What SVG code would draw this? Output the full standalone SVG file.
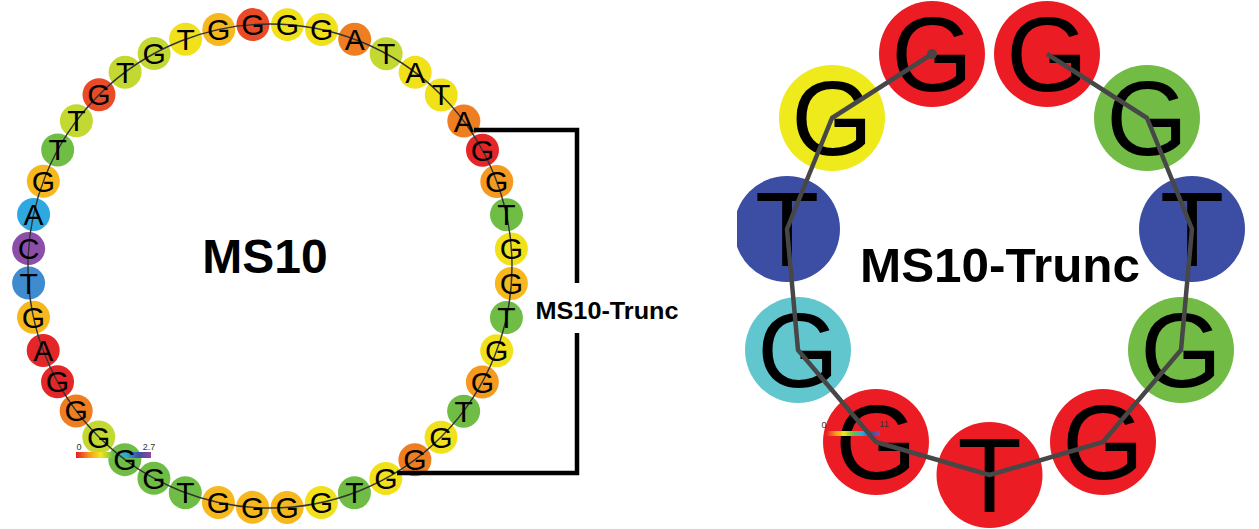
<svg xmlns="http://www.w3.org/2000/svg" width="1259" height="529" viewBox="0 0 1259 529">
<style>
.bg{fill:#fff}
.n{stroke:none}
.nt{font-family:"Liberation Sans",Arial,sans-serif;font-size:30px;fill:#000;text-anchor:middle}
.bt{font-family:"Liberation Sans",Arial,sans-serif;font-size:105px;fill:#000;text-anchor:middle}
.lbl{font-family:"Liberation Sans",Arial,sans-serif;font-weight:bold;fill:#000;text-anchor:middle}
.cb{font-family:"Liberation Sans",Arial,sans-serif;font-size:9px;fill:#333;text-anchor:middle}
.r{fill:#e42628}.ro{fill:#ea4b26}.o{fill:#ef7d22}.oa{fill:#f39a1f}.go{fill:#f6b81d}.y{fill:#f1e11b}.yg{fill:#c3d932}.g{fill:#6fbd45}.cy{fill:#2ea8e0}.bl{fill:#3e8bd0}.pu{fill:#8b4fa9}
.R{fill:#ec1c24}.Y{fill:#eeea1c}.G{fill:#72bb45}.B{fill:#3b4ea4}.C{fill:#62c6cf}
.bb{fill:none;stroke:#333;stroke-width:1.4}
.bb2{fill:none;stroke:#474747;stroke-width:4.5;stroke-linejoin:round}
.br{fill:none;stroke:#000;stroke-width:4.5}
</style>
<defs>
<linearGradient id="spec" x1="0" y1="0" x2="1" y2="0">
<stop offset="0" stop-color="#e31e26"/>
<stop offset="0.17" stop-color="#f7941d"/>
<stop offset="0.33" stop-color="#f2e81c"/>
<stop offset="0.5" stop-color="#6cbd45"/>
<stop offset="0.67" stop-color="#2aa9e0"/>
<stop offset="0.83" stop-color="#3b4fa3"/>
<stop offset="1" stop-color="#92479b"/>
</linearGradient>
<clipPath id="clipL"><rect x="737" y="0" width="522" height="529"/></clipPath>
</defs>
<rect class="bg" x="0" y="0" width="1259" height="529"/>

<!-- LEFT: MS10 nucleotide discs -->
<g id="ms10-nodes">
<g id="n1" transform="translate(270 266) rotate(-28.6) translate(242 0) rotate(28.6)"><circle class="n r" r="16.5"/></g>
<g id="n2" transform="translate(270 266) rotate(-20.42) translate(242 0) rotate(20.42)"><circle class="n oa" r="16.5"/></g>
<g id="n3" transform="translate(270 266) rotate(-12.24) translate(242 0) rotate(12.24)"><circle class="n g" r="16.5"/></g>
<g id="n4" transform="translate(270 266) rotate(-4.05) translate(242 0) rotate(4.05)"><circle class="n y" r="16.5"/></g>
<g id="n5" transform="translate(270 266) rotate(4.13) translate(242 0) rotate(-4.13)"><circle class="n go" r="16.5"/></g>
<g id="n6" transform="translate(270 266) rotate(12.31) translate(242 0) rotate(-12.31)"><circle class="n g" r="16.5"/></g>
<g id="n7" transform="translate(270 266) rotate(20.49) translate(242 0) rotate(-20.49)"><circle class="n y" r="16.5"/></g>
<g id="n8" transform="translate(270 266) rotate(28.67) translate(242 0) rotate(-28.67)"><circle class="n oa" r="16.5"/></g>
<g id="n9" transform="translate(270 266) rotate(36.85) translate(242 0) rotate(-36.85)"><circle class="n g" r="16.5"/></g>
<g id="n10" transform="translate(270 266) rotate(45.04) translate(242 0) rotate(-45.04)"><circle class="n y" r="16.5"/></g>
<g id="n11" transform="translate(270 266) rotate(53.22) translate(242 0) rotate(-53.22)"><circle class="n o" r="16.5"/></g>
<g id="n12" transform="translate(270 266) rotate(61.4) translate(242 0) rotate(-61.4)"><circle class="n y" r="16.5"/></g>
<g id="n13" transform="translate(270 266) rotate(69.58) translate(242 0) rotate(-69.58)"><circle class="n g" r="16.5"/></g>
<g id="n14" transform="translate(270 266) rotate(77.76) translate(242 0) rotate(-77.76)"><circle class="n y" r="16.5"/></g>
<g id="n15" transform="translate(270 266) rotate(85.95) translate(242 0) rotate(-85.95)"><circle class="n go" r="16.5"/></g>
<g id="n16" transform="translate(270 266) rotate(94.13) translate(242 0) rotate(-94.13)"><circle class="n go" r="16.5"/></g>
<g id="n17" transform="translate(270 266) rotate(102.31) translate(242 0) rotate(-102.31)"><circle class="n go" r="16.5"/></g>
<g id="n18" transform="translate(270 266) rotate(110.49) translate(242 0) rotate(-110.49)"><circle class="n g" r="16.5"/></g>
<g id="n19" transform="translate(270 266) rotate(118.67) translate(242 0) rotate(-118.67)"><circle class="n g" r="16.5"/></g>
<g id="n20" transform="translate(270 266) rotate(126.86) translate(242 0) rotate(-126.86)"><circle class="n g" r="16.5"/></g>
<g id="n21" transform="translate(270 266) rotate(135.04) translate(242 0) rotate(-135.04)"><circle class="n yg" r="16.5"/></g>
<g id="n22" transform="translate(270 266) rotate(143.22) translate(242 0) rotate(-143.22)"><circle class="n o" r="16.5"/></g>
<g id="n23" transform="translate(270 266) rotate(151.4) translate(242 0) rotate(-151.4)"><circle class="n r" r="16.5"/></g>
<g id="n24" transform="translate(270 266) rotate(159.58) translate(242 0) rotate(-159.58)"><circle class="n r" r="16.5"/></g>
<g id="n25" transform="translate(270 266) rotate(167.76) translate(242 0) rotate(-167.76)"><circle class="n go" r="16.5"/></g>
<g id="n26" transform="translate(270 266) rotate(175.95) translate(242 0) rotate(-175.95)"><circle class="n bl" r="16.5"/></g>
<g id="n27" transform="translate(270 266) rotate(184.13) translate(242 0) rotate(-184.13)"><circle class="n pu" r="16.5"/></g>
<g id="n28" transform="translate(270 266) rotate(192.31) translate(242 0) rotate(-192.31)"><circle class="n cy" r="16.5"/></g>
<g id="n29" transform="translate(270 266) rotate(200.49) translate(242 0) rotate(-200.49)"><circle class="n go" r="16.5"/></g>
<g id="n30" transform="translate(270 266) rotate(208.67) translate(242 0) rotate(-208.67)"><circle class="n g" r="16.5"/></g>
<g id="n31" transform="translate(270 266) rotate(216.86) translate(242 0) rotate(-216.86)"><circle class="n yg" r="16.5"/></g>
<g id="n32" transform="translate(270 266) rotate(225.04) translate(242 0) rotate(-225.04)"><circle class="n ro" r="16.5"/></g>
<g id="n33" transform="translate(270 266) rotate(233.22) translate(242 0) rotate(-233.22)"><circle class="n yg" r="16.5"/></g>
<g id="n34" transform="translate(270 266) rotate(241.4) translate(242 0) rotate(-241.4)"><circle class="n yg" r="16.5"/></g>
<g id="n35" transform="translate(270 266) rotate(249.58) translate(242 0) rotate(-249.58)"><circle class="n y" r="16.5"/></g>
<g id="n36" transform="translate(270 266) rotate(257.77) translate(242 0) rotate(-257.77)"><circle class="n go" r="16.5"/></g>
<g id="n37" transform="translate(270 266) rotate(265.95) translate(242 0) rotate(-265.95)"><circle class="n ro" r="16.5"/></g>
<g id="n38" transform="translate(270 266) rotate(274.13) translate(242 0) rotate(-274.13)"><circle class="n y" r="16.5"/></g>
<g id="n39" transform="translate(270 266) rotate(282.31) translate(242 0) rotate(-282.31)"><circle class="n y" r="16.5"/></g>
<g id="n40" transform="translate(270 266) rotate(290.49) translate(242 0) rotate(-290.49)"><circle class="n o" r="16.5"/></g>
<g id="n41" transform="translate(270 266) rotate(298.68) translate(242 0) rotate(-298.68)"><circle class="n yg" r="16.5"/></g>
<g id="n42" transform="translate(270 266) rotate(306.86) translate(242 0) rotate(-306.86)"><circle class="n y" r="16.5"/></g>
<g id="n43" transform="translate(270 266) rotate(315.04) translate(242 0) rotate(-315.04)"><circle class="n y" r="16.5"/></g>
<g id="n44" transform="translate(270 266) rotate(323.22) translate(242 0) rotate(-323.22)"><circle class="n o" r="16.5"/></g>
</g>

<g id="colorbar-left">
<rect x="76" y="452" width="75" height="6" fill="url(#spec)"/>
<text class="cb" x="79" y="450">0</text>
<text class="cb" x="149" y="450">2.7</text>
</g>

<!-- RIGHT: MS10-Trunc nucleotides -->
<g id="t1"><circle class="n R" cx="932" cy="54" r="53"/><text class="bt" x="932" y="91">G</text></g>
<g id="t2"><circle class="n Y" cx="832" cy="118" r="53"/><text class="bt" x="832" y="155">G</text></g>
<g id="t3"><circle class="n B" cx="787" cy="229" r="53" clip-path="url(#clipL)"/><text class="bt" x="787" y="266">T</text></g>
<g id="t4"><circle class="n C" cx="798" cy="350" r="53"/><text class="bt" x="798" y="387">G</text></g>
<g id="t5"><circle class="n R" cx="876" cy="442" r="53"/><text class="bt" x="876" y="479">G</text></g>
<g id="t6"><circle class="n R" cx="989.5" cy="475" r="53"/><text class="bt" x="989.5" y="512">T</text></g>
<g id="t7"><circle class="n R" cx="1103" cy="442" r="53"/><text class="bt" x="1103" y="479">G</text></g>
<g id="t8"><circle class="n G" cx="1181" cy="350" r="53"/><text class="bt" x="1181" y="387">G</text></g>
<g id="t9"><circle class="n B" cx="1192" cy="229" r="53"/><text class="bt" x="1192" y="266">T</text></g>
<g id="t10"><circle class="n G" cx="1147" cy="118" r="53"/><text class="bt" x="1147" y="155">G</text></g>
<g id="t11"><circle class="n R" cx="1047" cy="54" r="53"/><text class="bt" x="1047" y="91">G</text></g>

<g id="colorbar-right">
<rect x="826" y="431" width="54" height="5" fill="url(#spec)"/>
<text class="cb" x="824" y="428" font-size="4">0</text>
<text class="cb" x="884" y="427" font-size="5">11</text>
</g>

<g id="connectors">
<circle class="bb" cx="270" cy="266" r="242"/>
<path class="br" d="M474 130 H577 V283 M577 333 V473 H397"/>
<polyline class="bb2" points="932,54 832,118 787,229 798,350 876,442 989.5,475 1103,442 1181,350 1192,229 1147,118 1047,54"/>
<circle cx="932" cy="54" r="5" fill="#474747"/>
</g>

<g id="ms10-letters">
<g transform="translate(270 266) rotate(-28.6) translate(242 0) rotate(28.6)"><text class="nt" y="10.5">G</text></g>
<g transform="translate(270 266) rotate(-20.42) translate(242 0) rotate(20.42)"><text class="nt" y="10.5">G</text></g>
<g transform="translate(270 266) rotate(-12.24) translate(242 0) rotate(12.24)"><text class="nt" y="10.5">T</text></g>
<g transform="translate(270 266) rotate(-4.05) translate(242 0) rotate(4.05)"><text class="nt" y="10.5">G</text></g>
<g transform="translate(270 266) rotate(4.13) translate(242 0) rotate(-4.13)"><text class="nt" y="10.5">G</text></g>
<g transform="translate(270 266) rotate(12.31) translate(242 0) rotate(-12.31)"><text class="nt" y="10.5">T</text></g>
<g transform="translate(270 266) rotate(20.49) translate(242 0) rotate(-20.49)"><text class="nt" y="10.5">G</text></g>
<g transform="translate(270 266) rotate(28.67) translate(242 0) rotate(-28.67)"><text class="nt" y="10.5">G</text></g>
<g transform="translate(270 266) rotate(36.85) translate(242 0) rotate(-36.85)"><text class="nt" y="10.5">T</text></g>
<g transform="translate(270 266) rotate(45.04) translate(242 0) rotate(-45.04)"><text class="nt" y="10.5">G</text></g>
<g transform="translate(270 266) rotate(53.22) translate(242 0) rotate(-53.22)"><text class="nt" y="10.5">G</text></g>
<g transform="translate(270 266) rotate(61.4) translate(242 0) rotate(-61.4)"><text class="nt" y="10.5">G</text></g>
<g transform="translate(270 266) rotate(69.58) translate(242 0) rotate(-69.58)"><text class="nt" y="10.5">T</text></g>
<g transform="translate(270 266) rotate(77.76) translate(242 0) rotate(-77.76)"><text class="nt" y="10.5">G</text></g>
<g transform="translate(270 266) rotate(85.95) translate(242 0) rotate(-85.95)"><text class="nt" y="10.5">G</text></g>
<g transform="translate(270 266) rotate(94.13) translate(242 0) rotate(-94.13)"><text class="nt" y="10.5">G</text></g>
<g transform="translate(270 266) rotate(102.31) translate(242 0) rotate(-102.31)"><text class="nt" y="10.5">G</text></g>
<g transform="translate(270 266) rotate(110.49) translate(242 0) rotate(-110.49)"><text class="nt" y="10.5">T</text></g>
<g transform="translate(270 266) rotate(118.67) translate(242 0) rotate(-118.67)"><text class="nt" y="10.5">G</text></g>
<g transform="translate(270 266) rotate(126.86) translate(242 0) rotate(-126.86)"><text class="nt" y="10.5">G</text></g>
<g transform="translate(270 266) rotate(135.04) translate(242 0) rotate(-135.04)"><text class="nt" y="10.5">G</text></g>
<g transform="translate(270 266) rotate(143.22) translate(242 0) rotate(-143.22)"><text class="nt" y="10.5">G</text></g>
<g transform="translate(270 266) rotate(151.4) translate(242 0) rotate(-151.4)"><text class="nt" y="10.5">G</text></g>
<g transform="translate(270 266) rotate(159.58) translate(242 0) rotate(-159.58)"><text class="nt" y="10.5">A</text></g>
<g transform="translate(270 266) rotate(167.76) translate(242 0) rotate(-167.76)"><text class="nt" y="10.5">G</text></g>
<g transform="translate(270 266) rotate(175.95) translate(242 0) rotate(-175.95)"><text class="nt" y="10.5">T</text></g>
<g transform="translate(270 266) rotate(184.13) translate(242 0) rotate(-184.13)"><text class="nt" y="10.5">C</text></g>
<g transform="translate(270 266) rotate(192.31) translate(242 0) rotate(-192.31)"><text class="nt" y="10.5">A</text></g>
<g transform="translate(270 266) rotate(200.49) translate(242 0) rotate(-200.49)"><text class="nt" y="10.5">G</text></g>
<g transform="translate(270 266) rotate(208.67) translate(242 0) rotate(-208.67)"><text class="nt" y="10.5">T</text></g>
<g transform="translate(270 266) rotate(216.86) translate(242 0) rotate(-216.86)"><text class="nt" y="10.5">T</text></g>
<g transform="translate(270 266) rotate(225.04) translate(242 0) rotate(-225.04)"><text class="nt" y="10.5">G</text></g>
<g transform="translate(270 266) rotate(233.22) translate(242 0) rotate(-233.22)"><text class="nt" y="10.5">T</text></g>
<g transform="translate(270 266) rotate(241.4) translate(242 0) rotate(-241.4)"><text class="nt" y="10.5">G</text></g>
<g transform="translate(270 266) rotate(249.58) translate(242 0) rotate(-249.58)"><text class="nt" y="10.5">T</text></g>
<g transform="translate(270 266) rotate(257.77) translate(242 0) rotate(-257.77)"><text class="nt" y="10.5">G</text></g>
<g transform="translate(270 266) rotate(265.95) translate(242 0) rotate(-265.95)"><text class="nt" y="10.5">G</text></g>
<g transform="translate(270 266) rotate(274.13) translate(242 0) rotate(-274.13)"><text class="nt" y="10.5">G</text></g>
<g transform="translate(270 266) rotate(282.31) translate(242 0) rotate(-282.31)"><text class="nt" y="10.5">G</text></g>
<g transform="translate(270 266) rotate(290.49) translate(242 0) rotate(-290.49)"><text class="nt" y="10.5">A</text></g>
<g transform="translate(270 266) rotate(298.68) translate(242 0) rotate(-298.68)"><text class="nt" y="10.5">T</text></g>
<g transform="translate(270 266) rotate(306.86) translate(242 0) rotate(-306.86)"><text class="nt" y="10.5">A</text></g>
<g transform="translate(270 266) rotate(315.04) translate(242 0) rotate(-315.04)"><text class="nt" y="10.5">T</text></g>
<g transform="translate(270 266) rotate(323.22) translate(242 0) rotate(-323.22)"><text class="nt" y="10.5">A</text></g>
</g>

<g id="label-ms10"><text class="lbl" x="265" y="273" font-size="48">MS10</text></g>
<g id="label-trunc-left"><text class="lbl" x="607" y="319" font-size="24" textLength="143" lengthAdjust="spacingAndGlyphs">MS10-Trunc</text></g>
<g id="label-trunc-right"><text class="lbl" x="1000" y="282" font-size="48" textLength="280" lengthAdjust="spacingAndGlyphs">MS10-Trunc</text></g>
</svg>
